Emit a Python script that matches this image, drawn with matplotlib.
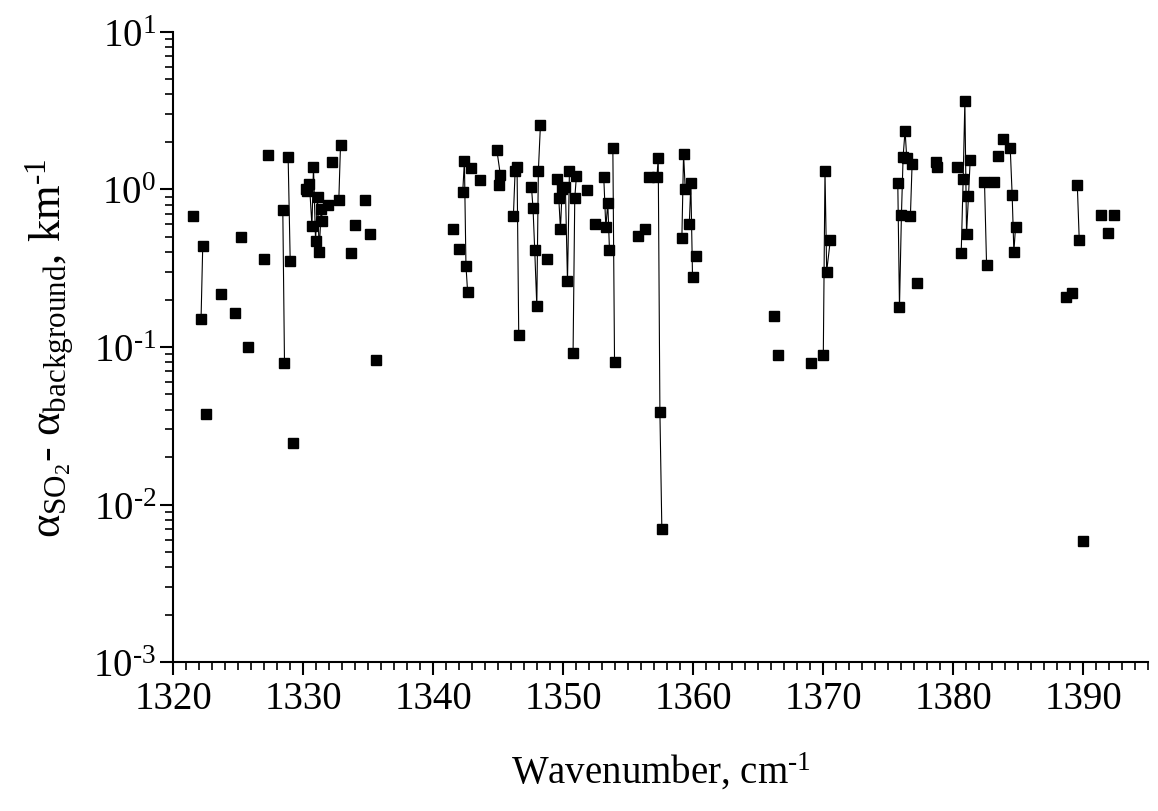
import math
import matplotlib
matplotlib.use("Agg")
import matplotlib.pyplot as plt
from matplotlib.ticker import LogLocator, MultipleLocator, FuncFormatter, NullFormatter

plt.rcParams['font.family'] = ['Liberation Serif', 'DejaVu Serif']
plt.rcParams['mathtext.fontset'] = 'custom'
plt.rcParams['mathtext.rm'] = 'Liberation Serif'
plt.rcParams['mathtext.it'] = 'Liberation Serif:italic'

# points; points sharing a segment id are joined by a line
wavenumber = [
    1321.54, 1322.13, 1322.26, 1322.54, 1323.65, 1324.78, 1325.19, 1325.75,
    1327.01, 1327.29, 1328.42, 1328.55, 1328.83, 1328.99, 1329.24,
    1330.17, 1330.28, 1330.47, 1330.66, 1330.78, 1330.94, 1331.09, 1331.22, 1331.37, 1331.47,
    1331.91, 1332.17, 1332.73, 1332.86, 1333.68, 1333.97, 1334.71, 1335.10, 1335.61,
    1341.54, 1341.95, 1342.26, 1342.39, 1342.51, 1342.64, 1342.92, 1343.62,
    1345.03, 1344.88, 1345.16,
    1346.16, 1346.29, 1346.44, 1346.57,
    1347.55, 1347.67, 1347.80, 1347.96, 1348.08, 1348.24, 1348.78,
    1349.50, 1349.65, 1349.78, 1349.91, 1350.16, 1350.32, 1350.47,
    1350.75, 1350.88, 1351.01, 1351.86, 1352.42,
    1353.11, 1353.27, 1353.42, 1353.55, 1353.81, 1353.94,
    1355.78, 1356.32, 1356.58, 1357.20, 1357.30, 1357.43, 1357.58,
    1359.12, 1359.25, 1359.38, 1359.69, 1359.81, 1359.94, 1360.23,
    1366.23, 1366.51, 1369.03, 1370.00, 1370.13, 1370.26, 1370.54,
    1375.73, 1375.86, 1376.01, 1376.14, 1376.29, 1376.42, 1376.70, 1376.83, 1377.24,
    1378.66, 1378.78, 1380.32,
    1380.61, 1380.76, 1380.89, 1381.02, 1381.17, 1381.30,
    1382.40, 1382.56, 1383.12, 1383.41, 1383.81,
    1384.38, 1384.53, 1384.66, 1384.79,
    1388.69, 1389.13, 1389.54, 1389.69, 1389.95, 1391.34, 1391.93, 1392.34,
]
alpha = [
    0.674, 0.150, 0.435, 0.0374, 0.218, 0.164, 0.501, 0.0995,
    0.362, 1.65, 0.740, 0.0792, 1.60, 0.349, 0.0247,
    1.00, 0.97, 1.08, 0.588, 1.39, 0.472, 0.90, 0.402, 0.75, 0.632,
    0.796, 1.50, 0.861, 1.92, 0.393, 0.597, 0.856, 0.523, 0.0827,
    0.557, 0.418, 0.957, 1.51, 0.328, 0.222, 1.37, 1.15,
    1.07, 1.79, 1.23,
    0.681, 1.30, 1.39, 0.120,
    1.03, 0.758, 0.412, 0.182, 1.31, 2.57, 0.360,
    1.17, 0.877, 0.56, 1.0, 1.03, 0.261, 1.30,
    0.0916, 0.881, 1.22, 0.986, 0.600,
    1.20, 0.574, 0.819, 0.414, 1.84, 0.0803,
    0.504, 0.558, 1.19, 1.19, 1.58, 0.0389, 0.00697,
    0.491, 1.68, 1.0, 0.600, 1.09, 0.278, 0.376,
    0.157, 0.0894, 0.0792, 0.0885, 1.31, 0.301, 0.477,
    1.10, 0.179, 0.684, 1.61, 2.36, 1.58, 0.674, 1.44, 0.256,
    1.50, 1.39, 1.39,
    0.397, 1.16, 3.62, 0.523, 0.907, 1.535,
    1.12, 0.333, 1.11, 1.62, 2.08,
    1.83, 0.916, 0.401, 0.580,
    0.207, 0.220, 1.07, 0.477, 0.0059, 0.684, 0.526, 0.684,
]
segment = [
    1, 2, 2, 3, 4, 5, 6, 7,
    8, 9, 10, 10, 11, 11, 12,
    13, 13, 13, 13, 13, 13, 13, 13, 13, 13,
    14, 15, 16, 16, 17, 18, 19, 20, 21,
    22, 23, 24, 24, 24, 24, 25, 26,
    27, 28, 28,
    29, 29, 29, 29,
    30, 30, 30, 30, 30, 30, 31,
    32, 32, 32, 32, 32, 32, 32,
    33, 33, 33, 34, 35,
    36, 36, 36, 36, 37, 37,
    38, 39, 40, 41, 41, 41, 41,
    42, 42, 42, 43, 43, 43, 44,
    45, 46, 47, 48, 48, 48, 48,
    49, 49, 49, 49, 49, 49, 50, 50, 51,
    52, 52, 53,
    54, 54, 54, 54, 54, 54,
    55, 55, 56, 57, 58,
    59, 59, 59, 59,
    60, 61, 62, 62, 63, 64, 65, 66,
]


def decade_label(v, pos):
    # hyphen instead of the math minus, as in the original figure
    return '10$^{\\text{%d}}$' % round(math.log10(v))


fig = plt.figure(figsize=(11.58, 8.12), dpi=100)
ax = fig.add_axes([0.1497, 0.1831, 0.8419, 0.7766])

for s in sorted(set(segment)):
    xs = [x for x, g in zip(wavenumber, segment) if g == s]
    ys = [y for y, g in zip(alpha, segment) if g == s]
    ax.plot(xs, ys, '-', color='black', linewidth=0.8)
ax.plot(wavenumber, alpha, 's', color='black', markersize=7, linestyle='none')

ax.set_yscale('log')
ax.set_xlim(1320, 1395)
ax.set_ylim(1e-3, 10)

ax.xaxis.set_major_locator(MultipleLocator(10))
ax.xaxis.set_minor_locator(MultipleLocator(1))
ax.yaxis.set_major_locator(LogLocator(base=10, numticks=10))
ax.yaxis.set_minor_locator(LogLocator(base=10, subs=range(2, 10), numticks=20))
ax.yaxis.set_minor_formatter(NullFormatter())
ax.yaxis.set_major_formatter(FuncFormatter(decade_label))

for side in ['top', 'right']:
    ax.spines[side].set_visible(False)
for side in ['left', 'bottom']:
    ax.spines[side].set_linewidth(1.5)

ax.tick_params(which='major', direction='out', length=9.5, width=1.5, labelsize=28, pad=3)
ax.tick_params(which='minor', direction='out', length=5.5, width=1.2)

ax.set_xlabel('Wavenumber, cm$^{\\text{-1}}$', fontsize=28, labelpad=24)
ax.set_ylabel('α$_{\\mathregular{SO_2}}$- α$_{\\mathregular{background}}$, km$^{\\text{-1}}$',
              fontsize=32, labelpad=12)

fig.savefig('out.png', dpi=100)
